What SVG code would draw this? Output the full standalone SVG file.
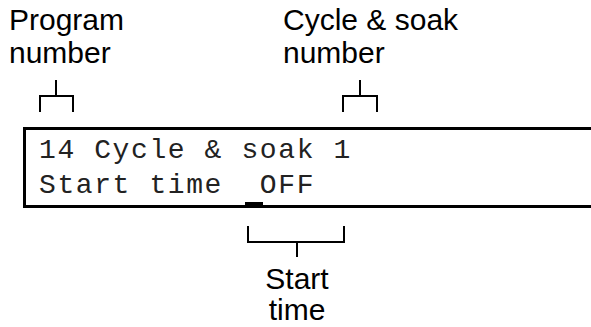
<svg xmlns="http://www.w3.org/2000/svg" width="591" height="327" viewBox="0 0 591 327">
  <style>
    .label { font-family: "Liberation Sans", Arial, sans-serif; font-size: 30px; fill: #000; }
    .lcd { font-family: "Liberation Mono", "Courier New", monospace; font-size: 28px; letter-spacing: 1.6px; fill: #222; white-space: pre; }
    .bracket { fill: none; stroke: #000; stroke-width: 2; }
    .frame { fill: #fff; stroke: #000; stroke-width: 3; }
  </style>
  <rect width="591" height="327" fill="#fff"/>

  <!-- display panel (runs off the right edge) -->
  <g id="display">
    <rect class="frame" x="24.5" y="128.5" width="600" height="78"/>
    <text class="lcd" x="39" y="158">14 Cycle &amp; soak 1</text>
    <text class="lcd" x="39" y="193" xml:space="preserve">Start time  OFF</text>
    <rect id="cursor" x="245" y="202" width="18" height="4" fill="#000"/>
  </g>

  <g id="program-number">
    <text class="label" x="9" y="30">Program</text>
    <text class="label" x="9" y="63">number</text>
  </g>

  <g id="cycle-soak-number">
    <text class="label" x="283" y="30">Cycle &amp; soak</text>
    <text class="label" x="283" y="63">number</text>
  </g>

  <g id="start-time">
    <text class="label" x="297" y="289" text-anchor="middle">Start</text>
    <text class="label" x="297" y="320" text-anchor="middle">time</text>
  </g>

  <!-- callout brackets -->
  <g id="connectors">
    <path class="bracket" d="M56,80 V96 M40,112 V96 H73 V112"/>
    <path class="bracket" d="M360,80 V96 M343,112 V96 H377 V112"/>
    <path class="bracket" d="M248,226 V242 H344 V226 M297,242 V257"/>
  </g>
</svg>
